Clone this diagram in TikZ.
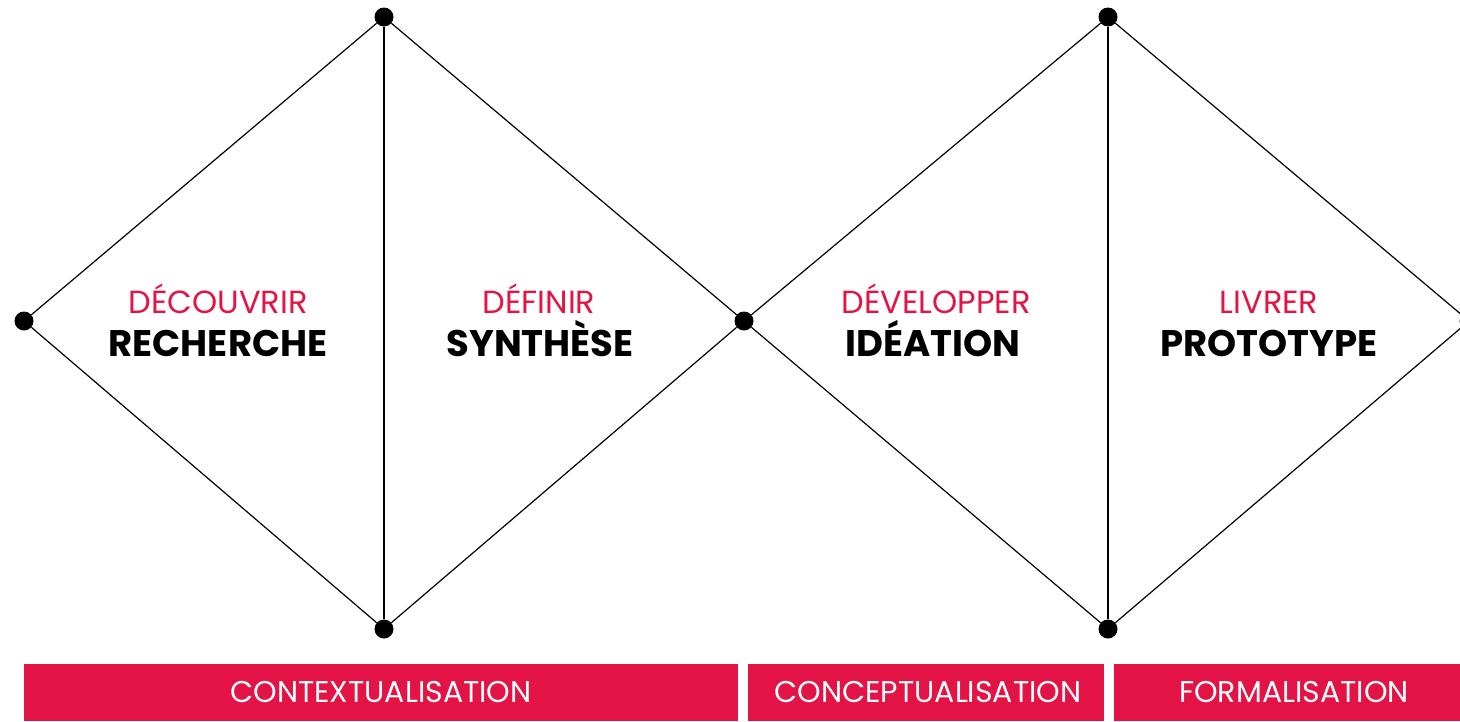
\documentclass[tikz,border=0pt]{standalone}
\usepackage{fontspec}
\setmainfont{Poppins}
\usepackage{tikz}

\definecolor{crimson}{HTML}{E31445}

\begin{document}
\begin{tikzpicture}[x = 1pt, y = -1pt,
    dot/.style = {circle, fill = black, inner sep = 0pt, minimum size = 19pt},
    phase/.style = {text = crimson, font = \fontsize{32}{34}\selectfont},
    task/.style = {text = black, font = \fontsize{37}{39}\selectfont\bfseries},
    band/.style = {fill = crimson, draw = none},
    bandlabel/.style = {text = white, font = \fontsize{30}{32}\selectfont}]
  \clip (0, 0) rectangle (1460, 721);

  \node[dot] (left) at (24, 321) {};
  \node[dot] (top1) at (384, 17) {};
  \node[dot] (bot1) at (384, 629) {};
  \node[dot] (mid) at (744, 321) {};
  \node[dot] (top2) at (1108, 17) {};
  \node[dot] (bot2) at (1108, 629) {};
  \node[dot] (right) at (1469, 321) {};

  \draw[line width = 1.2pt] (left) -- (top1);
  \draw[line width = 1.2pt] (left) -- (bot1);
  \draw[line width = 1.2pt] (top1) -- (bot1);
  \draw[line width = 1.2pt] (top1) -- (mid);
  \draw[line width = 1.2pt] (bot1) -- (mid);
  \draw[line width = 1.2pt] (mid) -- (top2);
  \draw[line width = 1.2pt] (mid) -- (bot2);
  \draw[line width = 1.2pt] (top2) -- (bot2);
  \draw[line width = 1.2pt] (top2) -- (right);
  \draw[line width = 1.2pt] (bot2) -- (right);

  \node[phase, anchor = base] (decouvrir) at (218, 313) {DÉCOUVRIR};
  \node[task, anchor = base] (recherche) at (218, 356) {RECHERCHE};
  \node[phase, anchor = base] (definir) at (539, 313) {DÉFINIR};
  \node[task, anchor = base] (synthese) at (540, 356) {SYNTHÈSE};
  \node[phase, anchor = base] (developper) at (936, 313) {DÉVELOPPER};
  \node[task, anchor = base] (ideation) at (933, 356) {IDÉATION};
  \node[phase, anchor = base] (livrer) at (1269, 313) {LIVRER};
  \node[task, anchor = base] (prototype) at (1269, 356) {PROTOTYPE};

  \filldraw[band] (24, 664) rectangle (738, 721);
  \filldraw[band] (748, 664) rectangle (1104, 721);
  \filldraw[band] (1114, 664) rectangle (1460, 721);

  \node[bandlabel, anchor = base] (contexte) at (381, 702) {CONTEXTUALISATION};
  \node[bandlabel, anchor = base] (concept) at (928, 702) {CONCEPTUALISATION};
  \node[bandlabel, anchor = base] (forme) at (1294, 702) {FORMALISATION};
\end{tikzpicture}
\end{document}
